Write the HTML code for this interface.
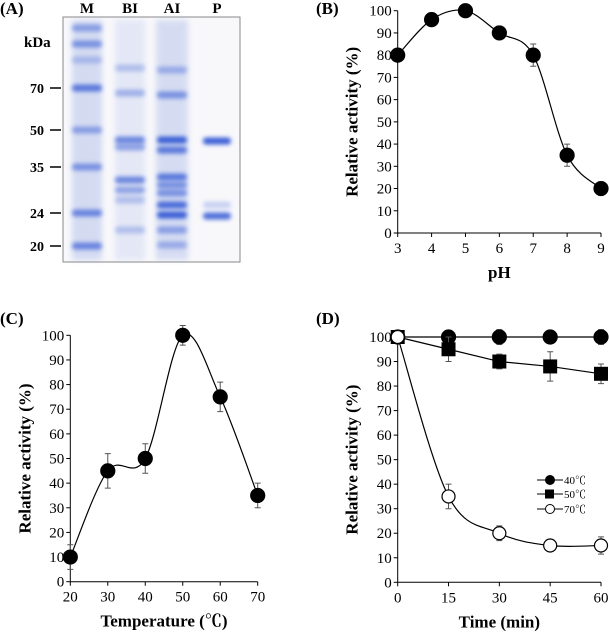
<!DOCTYPE html>
<html><head><meta charset="utf-8"><style>
body{margin:0;background:#fff;width:609px;height:633px;overflow:hidden}
svg{display:block;font-family:"Liberation Serif","Noto Serif CJK SC",serif}
</style></head><body>
<svg id="fig" width="609" height="633">
<defs><filter id="bl" x="-20%" y="-80%" width="140%" height="260%"><feGaussianBlur stdDeviation="2.2"/></filter>
<filter id="bl2" x="-30%" y="-10%" width="160%" height="120%"><feGaussianBlur stdDeviation="3"/></filter></defs>
<g id="gel">
<text x="0" y="14" font-weight="bold" font-size="17">(A)</text>
<rect x="63" y="17" width="177" height="245" fill="#f8f8fb" stroke="#888" stroke-width="1"/>
</g>
</svg>
<script>
// ---- Panel A gel data ----
const laneNames=["M","BI","AI","P"];
const markerKDa=["70","50","35","24","20"];
// ---- Panel B data ----
const phX=[3,4,5,6,7,8,9];
const phY=[80,96,100,90,80,35,20];
const phErr=[2,3,1,3,5,5,3];
// ---- Panel C data ----
const tempX=[20,30,40,50,60,70];
const tempY=[10,45,50,100,75,35];
const tempErr=[5,7,6,4,6,5];
// ---- Panel D data ----
const timeX=[0,15,30,45,60];
const s40=[100,100,100,100,100];
const e40=[1,2,3,2.5,3];
const s50=[100,95,90,88,85];
const e50=[1,5,3,6,4];
const s70=[100,35,20,15,15];
const e70=[1,5,3,1,3.5];
const yTicks=[0,10,20,30,40,50,60,70,80,90,100];

const NS="http://www.w3.org/2000/svg";
const fig=document.getElementById('fig');
function mk(tag,attrs,parent){const e=document.createElementNS(NS,tag);for(const k in attrs)e.setAttribute(k,attrs[k]);(parent||fig).appendChild(e);return e;}

const gel=document.getElementById('gel');
const laneCx=[87,130,172,217];
const markerY=[88,130,167,213,246];
laneNames.forEach((n,i)=>{const t=mk('text',{x:laneCx[i],y:13,'text-anchor':'middle','font-weight':'bold','font-size':'15'},gel);t.textContent=n;

});
const kt=mk('text',{x:24,y:47,'font-weight':'bold','font-size':'15'},gel);kt.textContent="kDa";


markerKDa.forEach((m,i)=>{const t=mk('text',{x:30,y:markerY[i]+5,'font-weight':'bold','font-size':'14'},gel);t.textContent=m;


mk('line',{x1:50,x2:61,y1:markerY[i],y2:markerY[i],stroke:'#000','stroke-width':1.5},gel);});
[[72,102,0.4],[115,145,0.22],[156,188,0.38]].forEach(l=>{mk('rect',{x:l[0],y:20,width:l[1]-l[0],height:240,fill:'#9fb0e4',opacity:l[2],filter:'url(#bl2)'},gel);});
const bands=[[0,28,.5],[0,44,.6],[0,88,.8],[0,130,.5],[0,167,.6],[0,213,.7],[0,246,.7],[0,60,.3],
[1,68,.3],[1,93,.4],[1,140,.7],[1,147,.5],[1,180,.7],[1,190,.5],[1,200,.3],[1,230,.3],
[2,95,.6],[2,70,.4],[2,140,1],[2,150,.8],[2,177,.8],[2,185,.6],[2,193,.6],[2,205,.9],[2,215,1],[2,230,.5],[2,245,.4],
[3,141,1],[3,216,.9],[3,205,.25]];
bands.forEach(b=>{const w=b[0]==3?28:30;mk('rect',{x:laneCx[b[0]]-w/2,y:b[1]-3.5,width:w,height:7,rx:3,fill:'#3b5fd6',opacity:b[2],filter:'url(#bl)'},gel);});

function smooth(pts){let d="M"+pts[0][0]+","+pts[0][1];
for(let i=0;i<pts.length-1;i++){const p0=pts[i-1]||pts[i],p1=pts[i],p2=pts[i+1],p3=pts[i+2]||p2;
const c1=[p1[0]+(p2[0]-p0[0])/6,p1[1]+(p2[1]-p0[1])/6],c2=[p2[0]-(p3[0]-p1[0])/6,p2[1]-(p3[1]-p1[1])/6];
d+=" C"+c1+" "+c2+" "+p2;}return d;}

function chart(o){
const g=mk('g',{});


const sx=v=>o.x0+(v-o.xmin)/(o.xmax-o.xmin)*(o.x1-o.x0);
const sy=v=>o.y0+(v/100)*(o.y1-o.y0);
const lbl=mk('text',{x:o.lx,y:o.ly,'font-weight':'bold','font-size':'17'},g);lbl.textContent=o.label;


mk('line',{x1:o.x0,x2:o.x1,y1:o.y0,y2:o.y0,stroke:'#000','stroke-width':1},g);
mk('line',{x1:o.x0,x2:o.x0,y1:o.y0,y2:o.y1,stroke:'#000','stroke-width':1},g);
yTicks.forEach(v=>{mk('line',{x1:o.x0-4,x2:o.x0,y1:sy(v),y2:sy(v),stroke:'#000'},g);
const t=mk('text',{x:o.x0-6,y:sy(v)+5,'text-anchor':'end','font-size':'15'},g);t.textContent=v;

});
o.xticks.forEach(v=>{mk('line',{x1:sx(v),x2:sx(v),y1:o.y0,y2:o.y0+4,stroke:'#000'},g);
const t=mk('text',{x:sx(v),y:o.y0+20,'text-anchor':'middle','font-size':'15'},g);t.textContent=v;

});
const yt=mk('text',{transform:`translate(${o.x0-40},${(o.y0+o.y1)/2}) rotate(-90)`,'text-anchor':'middle','font-weight':'bold','font-size':'17'},g);yt.textContent="Relative activity (%)";


const xt=mk('text',{x:(o.x0+o.x1)/2,y:o.y0+45,'text-anchor':'middle','font-weight':'bold','font-size':'17'},g);xt.textContent=o.xtitle;


o.series.forEach(s=>{
const pts=o.xs.map((x,i)=>[sx(x),sy(s.y[i])]);
const p=mk('path',{d:s.straight?"M"+pts.join(" L"):smooth(pts),fill:'none',stroke:'#000','stroke-width':1.2},g);


o.xs.forEach((x,i)=>{const cx=sx(x),lo=sy(s.y[i]-s.e[i]),hi=sy(s.y[i]+s.e[i]);
mk('path',{d:`M${cx},${lo}V${hi}M${cx-3},${lo}h6M${cx-3},${hi}h6`,stroke:'#555','stroke-width':1,fill:'none'},g);});
o.xs.forEach((x,i)=>{const cx=sx(x),cy=sy(s.y[i]);let m;
if(s.mk=='sq')m=mk('rect',{x:cx-7,y:cy-7,width:14,height:14,fill:'#000'},g);
else m=mk('circle',{cx,cy,r:s.mk=='open'?6.5:7,fill:s.mk=='open'?'#fff':'#000',stroke:'#000','stroke-width':1.2},g);

});
});
return g;}

chart({name:'ph-chart',label:'(B)',lx:316,ly:14,x0:397.7,x1:601,y0:233,y1:10.7,xmin:3,xmax:9,xticks:phX,xs:phX,xtitle:'pH',
series:[{name:'ph',y:phY,e:phErr,mk:'fill'}]});
chart({name:'temperature-chart',label:'(C)',lx:0,ly:324,x0:70.3,x1:257.7,y0:581.7,y1:335.3,xmin:20,xmax:70,xticks:tempX,xs:tempX,xtitle:'Temperature (℃)',
series:[{name:'temperature',y:tempY,e:tempErr,mk:'fill'}]});
const gD=chart({name:'thermostability-chart',label:'(D)',lx:316,ly:324,x0:397.7,x1:601,y0:582.3,y1:337,xmin:0,xmax:60,xticks:timeX,xs:timeX,xtitle:'Time (min)',
series:[{name:'40c',y:s40,e:e40,mk:'fill',straight:true},{name:'50c',y:s50,e:e50,mk:'sq',straight:true},{name:'70c',y:s70,e:e70,mk:'open'}]});
const leg=[["40℃","fill",480],["50℃","sq",494],["70℃","open",509]];
leg.forEach(l=>{const lg=mk('g',{},gD);


mk('line',{x1:537,x2:563,y1:l[2],y2:l[2],stroke:'#000'},lg);
if(l[1]=='sq')mk('rect',{x:545,y:l[2]-4.5,width:9,height:9,fill:'#000'},lg);
else mk('circle',{cx:550,cy:l[2],r:4.5,fill:l[1]=='open'?'#fff':'#000',stroke:'#000'},lg);
const t=mk('text',{x:564,y:l[2]+4,'font-size':'11'},lg);t.textContent=l[0];});
</script>
</body></html>
